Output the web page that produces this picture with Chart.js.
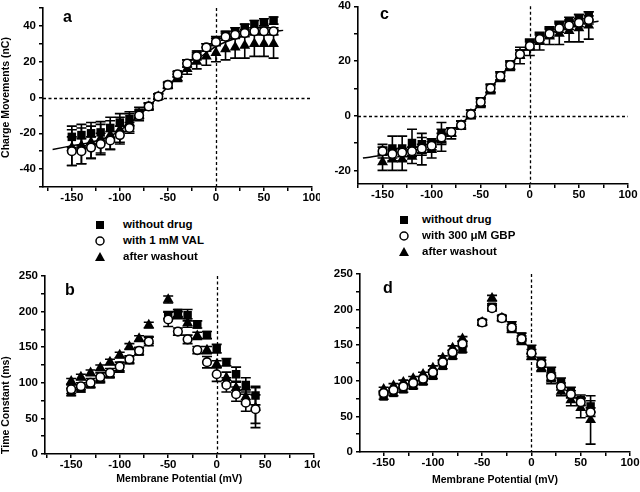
<!DOCTYPE html>
<html><head><meta charset="utf-8">
<script src="https://cdn.jsdelivr.net/npm/chart.js@4.4.1/dist/chart.umd.min.js"></script>
<style>
html,body{margin:0;padding:0;background:#fff;}
#wrap{position:relative;width:640px;height:492px;overflow:hidden;font-family:"Liberation Sans",Arial,Helvetica,sans-serif;color:#000;}
canvas{position:absolute;}
.lbl{position:absolute;font-weight:bold;font-size:16px;line-height:16px;}
.leg{position:absolute;font-size:11.5px;font-weight:bold;line-height:14px;white-space:nowrap;}
svg{position:absolute;}
</style></head><body><div id="wrap">
<canvas id="cA" width="320" height="210" style="left:0;top:0"></canvas>
<canvas id="cC" width="320" height="210" style="left:320px;top:0"></canvas>
<canvas id="cB" width="320" height="232" style="left:0;top:260px"></canvas>
<canvas id="cD" width="320" height="232" style="left:320px;top:260px"></canvas>

<div class="lbl" style="left:63px;top:9px">a</div>
<div class="lbl" style="left:380px;top:6px">c</div>
<div class="lbl" style="left:65px;top:282px">b</div>
<div class="lbl" style="left:383px;top:280px">d</div>

<svg width="12" height="12" style="left:94px;top:219px"><rect x="2" y="2" width="8" height="8" fill="#000"/></svg>
<div class="leg" style="left:123px;top:217px">without drug</div>
<svg width="12" height="12" style="left:94px;top:235px"><circle cx="6" cy="6" r="4" fill="#fff" stroke="#000" stroke-width="1.5"/></svg>
<div class="leg" style="left:123px;top:233px">with 1 mM VAL</div>
<svg width="12" height="12" style="left:94px;top:251px"><polygon points="6,1 11,10 1,10" fill="#000"/></svg>
<div class="leg" style="left:123px;top:249px">after washout</div>

<svg width="12" height="12" style="left:398px;top:214px"><rect x="2" y="2" width="8" height="8" fill="#000"/></svg>
<div class="leg" style="left:422px;top:212px">without drug</div>
<svg width="12" height="12" style="left:398px;top:230px"><circle cx="6" cy="6" r="4" fill="#fff" stroke="#000" stroke-width="1.5"/></svg>
<div class="leg" style="left:422px;top:228px">with 300 μM GBP</div>
<svg width="12" height="12" style="left:398px;top:246px"><polygon points="6,1 11,10 1,10" fill="#000"/></svg>
<div class="leg" style="left:422px;top:244px">after washout</div>
</div>
<script>
// ---------- data ----------
const X_IV = [-150,-140,-130,-120,-110,-100,-90,-80,-70,-60,-50,-40,-30,-20,-10,0,10,20,30,40,50,60];
// panel a (charge movements, VAL)
const A_SQ = [-22,-21,-20,-19.5,-17,-14,-12,-8.5,-5,0.5,7,13,19,24,28,32,35,37,39,41,42,43];
const A_SQ_E = [6,6,6,6,6,5,4,3,2,1.5,1.5,1.5,2,2,2,2,2,2,2,2,2,2];
const A_CI = [-30,-30,-28,-26,-24,-21,-17,-10,-5,0.5,7,13,19,23,28,31,34,35,36,37,37,37];
const A_CI_E = [8,7,6,6,5,5,3,2,1.5,1.5,1.5,1.5,2,2,2,2,2,2,2,2,2,2];
const A_TR = [-28,-27,-25,-23,-21,-18,-14,-10,-5,0.5,6.5,11,16,20,23,25,27,28,29,30,30,30];
const A_TR_E = [10,10,9,8,8,7,5,3,2,1.5,1.5,2,3,4,5,5,6,6,7,7,7,8];
const FIT_X = [-170,-150,-130,-110,-100,-90,-80,-70,-60,-50,-40,-30,-20,-10,0,10,20,30,40,50,60,70];
const A_FIT = [-29,-27,-25,-21.5,-18.5,-14.5,-10,-5,0.5,6,11.5,16.5,21,25,28.5,31,33,34.5,35.5,36.3,37,37.5];
// panel c (charge movements, GBP)
const C_SQ = [-13,-12,-12,-10,-10.5,-10,-6.5,-6,-3.5,0.5,5,10,14.5,18.5,22.5,26,29,31,33,34.5,35.5,36.5];
const C_SQ_E = [2.5,4.5,4.5,5,4,1.5,4,1.5,1.5,1.5,1.5,1.5,1.5,1.5,1.5,1.5,1.5,1.5,1.5,1.5,1.5,1.5];
const C_CI = [-13,-14,-13.5,-13,-12,-11,-8,-6,-3.5,0.5,5,10,14.5,18.5,22.5,25.5,28,30,32,33,34,35];
const C_CI_E = [1.5,1.5,1.5,1.5,1.5,1.5,1.5,1.5,1.5,1.5,1.5,1.5,1.5,1.5,1.5,1.5,1.5,1.5,1.5,1.5,1.5,1.5];
const C_TR = [-17,-16,-16,-15,-13,-12.5,-9,-6.5,-3.5,0.5,4.5,9.5,14,18,22,25,27,29,30,31,32,33];
const C_TR_E = [3,4,4,2.5,5,3,4,2,1.5,1.5,1.5,1.5,1.5,1.5,3,3,3,3,4,4,5,5];
const C_FIT = [-15.5,-14.5,-13,-11,-10,-8,-5.5,-3,0.5,5,9.8,14.5,18.5,22.5,25.5,28,30,31.5,32.5,33.5,34,34.5];
// panel b (time constant, VAL)
const X_B = [-150,-140,-130,-120,-110,-100,-90,-80,-70,-50,-40,-30,-20,-10,0,10,20,30,40];
const B_SQ = [87,92,98,105,112,120,132,144,160,195,198,195,182,167,148,129,112,97,82];
const B_SQ_E = [5,5,5,5,5,5,5,5,5,5,5,8,5,5,6,5,10,10,13];
const B_CI = [91,95,100,108,114,123,133,145,158,189,172,161,146,129,112,97,84,72,63];
const B_CI_E = [6,5,6,6,6,6,5,5,6,10,5,6,5,8,10,10,10,12,20];
const B_TR = [102,108,114,121,129,139,151,162,181,217,195,184,166,146,126,107,93,80,65];
const B_TR_E = [4,4,4,4,4,4,4,4,4,5,5,6,5,5,5,8,8,10,28];
// panel d (time constant, GBP)
const X_D = [-150,-140,-130,-120,-110,-100,-90,-80,-70,-50,-40,-30,-20,-10,0,10,20,30,40,50,60];
const D_SQ = [78,83,88,93,99,107,121,135,144,182,204,188,178,162,144,127,113,98,85,73,64];
const D_SQ_E = [4,4,4,4,4,4,4,4,4,4,4,4,5,5,6,6,6,6,6,7,8];
const D_CI = [83,87,92,97,103,112,126,140,152,182,202,188,175,159,139,124,106,92,81,70,56];
const D_CI_E = [3,3,3,3,3,3,3,3,3,3,4,3,4,4,5,5,5,5,5,5,6];
const D_TR = [88,93,98,103,109,118,132,146,159,182,216,188,172,155,134,118,102,85,73,62,45];
const D_TR_E = [3,3,3,3,3,3,3,3,3,3,4,3,4,4,4,5,6,6,8,14,34];
// ticks
const X_MAJOR = [-150,-100,-50,0,50,100];
const X_MINOR = [-175,-125,-75,-25,25,75];
const IV_A_MAJOR = [-40,-20,0,20,40];
const IV_A_MINOR = [-50,-30,-10,10,30,50];
const IV_C_MAJOR = [-20,0,20,40];
const IV_C_MINOR = [-10,10,30];
const TAU_MAJOR = [0,50,100,150,200,250];
const TAU_MINOR = [25,75,125,175,225];

// ---------- plugins ----------
const errorBars = {
  id:'errorBars',
  beforeDatasetsDraw(chart){
    const {ctx, scales:{x,y}} = chart;
    ctx.save(); ctx.strokeStyle='#000'; ctx.lineWidth=1.6;
    chart.data.datasets.forEach(ds=>{
      if(!ds.errors) return;
      ds.data.forEach((p,i)=>{
        const e = ds.errors[i]; if(!e) return;
        const px = x.getPixelForValue(p.x);
        const y1 = y.getPixelForValue(p.y+e), y2 = y.getPixelForValue(p.y-e);
        ctx.beginPath();
        ctx.moveTo(px,y1); ctx.lineTo(px,y2);
        ctx.moveTo(px-5,y1); ctx.lineTo(px+5,y1);
        ctx.moveTo(px-5,y2); ctx.lineTo(px+5,y2);
        ctx.stroke();
      });
    });
    ctx.restore();
  }
};
const refLines = {
  id:'refLines',
  beforeDatasetsDraw(chart, args, opts){
    const {ctx, chartArea:a, scales:{x,y}} = chart;
    ctx.save(); ctx.strokeStyle='#000'; ctx.lineWidth=1.3; ctx.setLineDash([3,2.5]);
    const px = Math.round(x.getPixelForValue(0))+0.5;
    ctx.beginPath(); ctx.moveTo(px,a.top); ctx.lineTo(px,a.bottom); ctx.stroke();
    if(opts.horiz){
      const py = Math.round(y.getPixelForValue(0))+0.5;
      ctx.beginPath(); ctx.moveTo(a.left,py); ctx.lineTo(a.right,py); ctx.stroke();
    }
    ctx.restore();
  }
};

const FONT = '"Liberation Sans", Arial, Helvetica, sans-serif';
Chart.defaults.font.family = FONT;
Chart.defaults.color = '#000';
const TICK_FONT = {size:11.5, weight:'bold'};
const TITLE_FONT = {size:10.5, weight:'bold'};

function pts(xs, ys){ return xs.map((x,i)=>({x:x, y:ys[i]})); }

function series(xs, sq, sqE, ci, ciE, tr, trE){
  return [
    {label:'without drug', data:pts(xs,sq), errors:sqE, pointStyle:'rect', pointRadius:6, backgroundColor:'#000', borderColor:'#000', borderWidth:0, order:2},
    {label:'with drug', data:pts(xs,ci), errors:ciE, pointStyle:'circle', pointRadius:4.3, backgroundColor:'#fff', borderColor:'#000', borderWidth:1.6, order:0},
    {label:'after washout', data:pts(xs,tr), errors:trE, pointStyle:'triangle', pointRadius:6.3, backgroundColor:'#000', borderColor:'#000', borderWidth:0, order:1}
  ];
}

function axis(min, max, major, minor, extra){
  const all = major.concat(minor).filter(v=>v>=min && v<=max).sort((a,b)=>a-b);
  return Object.assign({
    type:'linear', min:min, max:max,
    afterBuildTicks(s){ s.ticks = all.map(v=>({value:v})); },
    grid:{drawOnChartArea:false, drawTicks:true, tickLength:4, color:'#000', lineWidth:1.5},
    border:{display:true, color:'#000', width:1.6}
  }, extra);
}

function make(id, c){
  const ds = c.datasets;
  if(c.fit) ds.push({label:'fit', data:pts(FIT_X,c.fit), showLine:true, pointRadius:0, borderColor:'#000', borderWidth:1.5, tension:0.4, cubicInterpolationMode:'monotone', order:3});
  new Chart(document.getElementById(id), {
    type:'scatter',
    data:{datasets:ds},
    options:{
      responsive:false, animation:false, devicePixelRatio:1, events:[],
      layout:{padding:{left:0, top:c.pad[0], right:c.pad[1], bottom:c.pad[2]}},
      plugins:{legend:{display:false}, tooltip:{enabled:false}, refLines:{horiz:c.horiz}},
      scales:{
        x: axis(c.xmin, 100, X_MAJOR, X_MINOR, {
          afterFit(s){ s.height=c.xH; s.paddingLeft=0; s.paddingRight=0; s.paddingTop=0; s.paddingBottom=0; },
          ticks:{autoSkip:false, maxRotation:0, padding:0, color:'#000', font:TICK_FONT,
            callback(v){ return X_MAJOR.includes(v) ? String(v) : ''; }},
          title:{display:!!c.xTitle, text:c.xTitle||'', font:TITLE_FONT, color:'#000', padding:0}
        }),
        y: axis(c.ymin, c.ymax, c.yMajor, c.yMinor, {
          afterFit(s){ s.width=c.yW; s.paddingLeft=0; s.paddingRight=0; s.paddingTop=0; s.paddingBottom=0; },
          ticks:{autoSkip:false, padding:3, color:'#000', font:TICK_FONT,
            callback(v){ return c.yMajor.includes(v) ? String(v) : ''; }},
          title:{display:!!c.yTitle, text:c.yTitle||'', font:TITLE_FONT, color:'#000', padding:0, align:c.yAlign||'center'}
        })
      }
    },
    plugins:[refLines, errorBars]
  });
}

make('cA', {datasets:series(X_IV,A_SQ,A_SQ_E,A_CI,A_CI_E,A_TR,A_TR_E), fit:A_FIT, horiz:true,
  xmin:-180, ymin:-50, ymax:50, yMajor:IV_A_MAJOR, yMinor:IV_A_MINOR, pad:[8,8,0], xH:23, yW:43,
  yTitle:'Charge Movements (nC)'});
make('cC', {datasets:series(X_IV,C_SQ,C_SQ_E,C_CI,C_CI_E,C_TR,C_TR_E), fit:C_FIT, horiz:true,
  xmin:-175, ymin:-25, ymax:40, yMajor:IV_C_MAJOR, yMinor:IV_C_MINOR, pad:[5,12,0], xH:26, yW:38});
make('cB', {datasets:series(X_B,B_SQ,B_SQ_E,B_CI,B_CI_E,B_TR,B_TR_E), horiz:false,
  xmin:-177, ymin:0, ymax:250, yMajor:TAU_MAJOR, yMinor:TAU_MINOR, pad:[16,5,7], xH:31, yW:45,
  yTitle:'Time Constant (ms)', yAlign:'start', xTitle:'Membrane Potential (mV)'});
make('cD', {datasets:series(X_D,D_SQ,D_SQ_E,D_CI,D_CI_E,D_TR,D_TR_E), horiz:false,
  xmin:-174, ymin:0, ymax:250, yMajor:TAU_MAJOR, yMinor:TAU_MINOR, pad:[14,10,6], xH:34, yW:40,
  xTitle:'Membrane Potential (mV)'});
</script>
</body></html>
